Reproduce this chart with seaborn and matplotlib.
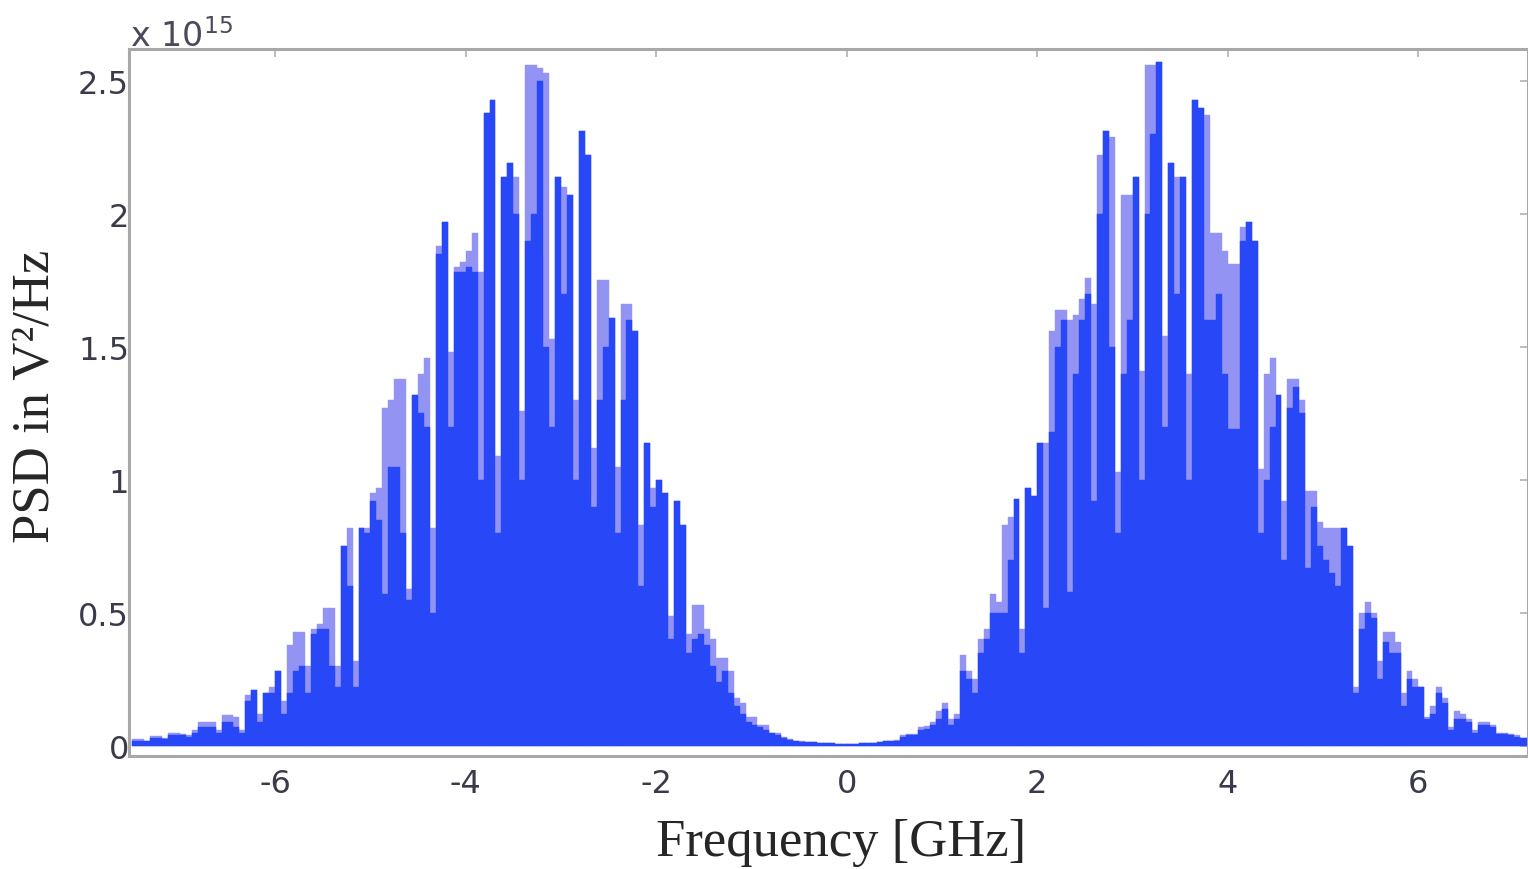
import numpy as np
import pandas as pd
import seaborn as sns
import matplotlib
matplotlib.use("Agg")
import matplotlib.pyplot as plt

sns.set_style("white")
plt.rcParams["axes.unicode_minus"] = False

# PSD in units of 1e15 V^2/Hz, bins of 1/16 GHz
bin_step = 1 / 16

# negative frequencies, -7.5 .. 0 GHz (120 bins)
peak_neg = [
    0.025, 0.025, 0.02, 0.036, 0.036, 0.03, 0.05, 0.05, 0.045, 0.04,
    0.06, 0.09, 0.09, 0.09, 0.06, 0.115, 0.115, 0.11, 0.06, 0.19,
    0.21, 0.12, 0.20, 0.22, 0.28, 0.17, 0.38, 0.43, 0.43, 0.30,
    0.44, 0.46, 0.52, 0.52, 0.30, 0.75, 0.82, 0.32, 0.82, 0.82,
    0.95, 0.97, 1.27, 1.30, 1.38, 1.38, 0.59, 1.32, 1.40, 1.46,
    0.82, 1.88, 1.97, 1.48, 1.80, 1.82, 1.86, 1.93, 1.78, 2.38,
    2.43, 1.09, 2.14, 2.19, 2.14, 1.26, 2.56, 2.56, 2.55, 2.53,
    1.53, 2.14, 2.10, 2.07, 1.30, 2.31, 2.22, 1.12, 1.75, 1.75,
    1.61, 1.05, 1.66, 1.66, 1.56, 0.83, 1.14, 0.97, 1.00, 0.95,
    0.49, 0.92, 0.83, 0.42, 0.53, 0.53, 0.44, 0.40, 0.33, 0.33,
    0.28, 0.18, 0.16, 0.11, 0.11, 0.08, 0.08, 0.05, 0.05, 0.035,
    0.025, 0.02, 0.018, 0.015, 0.015, 0.012, 0.01, 0.01, 0.008, 0.008,
]
solid_neg = [
    0.02, 0.02, 0.018, 0.03, 0.03, 0.025, 0.04, 0.04, 0.04, 0.035,
    0.05, 0.07, 0.07, 0.07, 0.05, 0.09, 0.09, 0.07, 0.05, 0.17,
    0.21, 0.09, 0.20, 0.20, 0.28, 0.12, 0.20, 0.28, 0.30, 0.20,
    0.42, 0.44, 0.44, 0.30, 0.22, 0.75, 0.60, 0.22, 0.82, 0.80,
    0.92, 0.85, 0.57, 1.05, 1.05, 0.80, 0.55, 1.32, 1.25, 1.20,
    0.50, 1.85, 1.97, 1.20, 1.78, 1.78, 1.80, 1.78, 1.00, 2.38,
    2.43, 0.80, 2.14, 2.19, 2.00, 1.00, 1.90, 2.00, 2.50, 1.50,
    1.20, 2.14, 1.70, 2.07, 1.00, 2.31, 2.22, 0.90, 1.30, 1.50,
    1.61, 0.80, 1.30, 1.60, 1.56, 0.60, 1.14, 0.90, 1.00, 0.95,
    0.40, 0.92, 0.83, 0.35, 0.40, 0.42, 0.38, 0.30, 0.24, 0.28,
    0.20, 0.15, 0.12, 0.09, 0.08, 0.07, 0.06, 0.05, 0.04, 0.03,
    0.022, 0.018, 0.016, 0.013, 0.013, 0.01, 0.009, 0.009, 0.007, 0.007,
]

# positive frequencies, 0 .. ~7.2 GHz (115 bins, rest is cut off)
peak_pos = [
    0.008, 0.008, 0.01, 0.01, 0.012, 0.015, 0.02, 0.02, 0.022, 0.04,
    0.045, 0.045, 0.07, 0.075, 0.09, 0.13, 0.16, 0.10, 0.12, 0.34,
    0.28, 0.25, 0.40, 0.44, 0.57, 0.54, 0.83, 0.86, 0.93, 0.44,
    0.97, 0.94, 1.14, 1.14, 1.56, 1.64, 1.64, 1.60, 1.62, 1.68,
    1.76, 1.66, 2.22, 2.31, 2.29, 1.03, 2.07, 2.07, 2.14, 1.41,
    2.56, 2.56, 2.57, 1.54, 2.19, 2.14, 2.14, 1.40, 2.43, 2.40,
    2.37, 1.93, 1.93, 1.86, 1.81, 1.81, 1.95, 1.97, 1.90, 1.04,
    1.40, 1.46, 1.32, 0.92, 1.38, 1.38, 1.30, 0.96, 0.96, 0.84,
    0.82, 0.82, 0.82, 0.82, 0.75, 0.22, 0.50, 0.54, 0.50, 0.32,
    0.43, 0.43, 0.39, 0.20, 0.28, 0.25, 0.22, 0.11, 0.15, 0.22,
    0.18, 0.07, 0.13, 0.12, 0.10, 0.06, 0.09, 0.09, 0.08, 0.05,
    0.05, 0.045, 0.04, 0.03, 0.03,
]
solid_pos = [
    0.007, 0.007, 0.009, 0.009, 0.01, 0.013, 0.018, 0.018, 0.02, 0.035,
    0.04, 0.04, 0.06, 0.065, 0.08, 0.10, 0.14, 0.08, 0.10, 0.28,
    0.25, 0.20, 0.35, 0.40, 0.50, 0.50, 0.50, 0.70, 0.93, 0.35,
    0.97, 0.94, 1.14, 0.52, 1.18, 1.50, 1.60, 0.58, 1.40, 1.60,
    1.70, 0.92, 2.00, 2.31, 1.50, 0.80, 1.40, 1.60, 2.14, 1.00,
    2.00, 2.30, 2.57, 1.20, 2.19, 1.70, 2.14, 1.00, 2.43, 2.40,
    1.60, 1.60, 1.70, 1.40, 1.19, 1.19, 1.90, 1.97, 1.90, 0.80,
    1.00, 1.20, 1.32, 0.70, 1.27, 1.35, 1.25, 0.67, 0.90, 0.75,
    0.70, 0.65, 0.60, 0.82, 0.75, 0.20, 0.44, 0.50, 0.48, 0.25,
    0.39, 0.35, 0.35, 0.15, 0.25, 0.22, 0.22, 0.10, 0.12, 0.20,
    0.16, 0.06, 0.10, 0.10, 0.09, 0.05, 0.08, 0.08, 0.07, 0.045,
    0.045, 0.04, 0.035, 0.03, 0.03,
]

x_ticks = [-6, -4, -2, 0, 2, 4, 6]
y_ticks = [0, 0.5, 1, 1.5, 2, 2.5]
y_tick_labels = ["0", "0.5", "1", "1.5", "2", "2.5"]

edges = -7.5 + bin_step * np.arange(len(peak_neg) + len(peak_pos) + 1)
df = pd.DataFrame({
    "freq": edges[:-1] + bin_step / 2,
    "peak": peak_neg + peak_pos,
    "solid": solid_neg + solid_pos,
})

dark_blue = "#2847f6"
light_blue = "#9393f3"

fig = plt.figure(figsize=(15.28, 8.7), dpi=100)
ax = fig.add_axes([129 / 1528, 1 - 757 / 870, 1 - 129 / 1528, (757 - 50) / 870])

sns.histplot(data=df, x="freq", weights="peak", bins=list(edges), color=light_blue,
             alpha=1, edgecolor=light_blue, linewidth=0.3, ax=ax)
sns.histplot(data=df, x="freq", weights="solid", bins=list(edges), color=dark_blue,
             alpha=1, edgecolor=dark_blue, linewidth=0.3, ax=ax)

ax.set_xlim(-7.534, 7.15)
ax.set_ylim(-0.038, 2.62)
ax.set_xticks(x_ticks)
ax.set_xticklabels([str(t) for t in x_ticks])
ax.set_yticks(y_ticks)
ax.set_yticklabels(y_tick_labels)
ax.set_xlabel("")
ax.set_ylabel("")

for s in ax.spines.values():
    s.set_visible(True)
    s.set_color("#a8a8a8")
    s.set_linewidth(2.2)

ax.tick_params(direction="in", top=True, right=True, length=6, width=1.2,
               color="#b0b0b0", labelsize=23, labelcolor="#3a3a4a")
ax.tick_params(axis="y", pad=0)
ax.tick_params(axis="x", pad=9)

fig.text(0.085, 0.958, r"x 10$^{15}$", fontsize=24, color="#4a4a5a",
         ha="left", va="center")

serif = ["Liberation Serif", "DejaVu Serif"]
fig.text(0.5505, 0.031, "Frequency [GHz]", family=serif, fontsize=38,
         ha="center", va="center")
fig.text(0.023, 0.544, "PSD in V²/Hz", family=serif, fontsize=38,
         rotation=90, ha="center", va="center")

fig.savefig("out.png", dpi=100)
